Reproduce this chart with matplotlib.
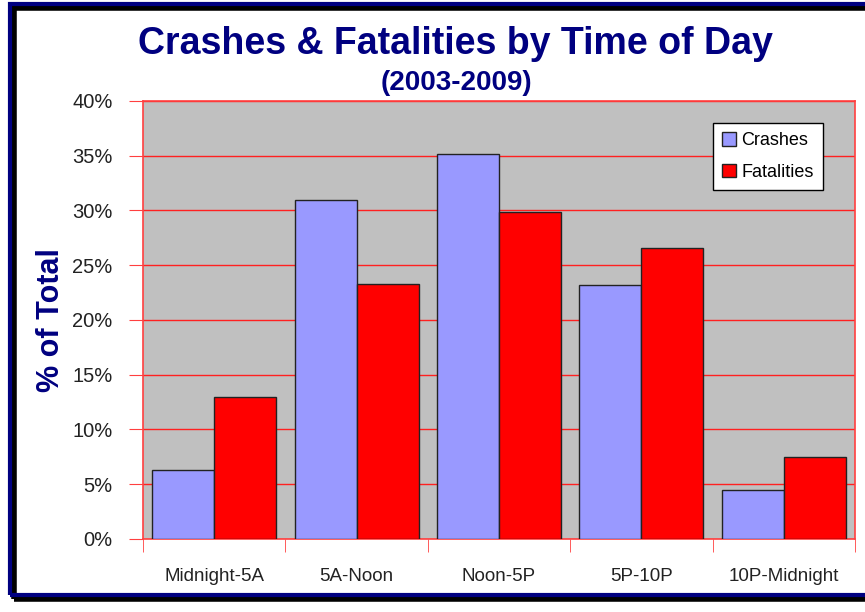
import numpy as np
import matplotlib.pyplot as plt
from matplotlib.patches import Rectangle

categories = ['Midnight-5A', '5A-Noon', 'Noon-5P', '5P-10P', '10P-Midnight']
crashes = [6.3, 31.0, 35.2, 23.2, 4.5]
fatalities = [13.0, 23.3, 29.9, 26.6, 7.5]
yticks = [0, 5, 10, 15, 20, 25, 30, 35, 40]

plt.rcParams['font.family'] = ['Liberation Sans', 'DejaVu Sans']
navy = '#000080'

fig = plt.figure(figsize=(8.65, 6.12), dpi=100)
ax = fig.add_axes([0.1653, 0.1193, 0.8231, 0.7157])

# outer frame with shadow
fig.patches.append(Rectangle((0.016, 0.022), 0.99, 0.965, transform=fig.transFigure,
                             fill=False, edgecolor='black', linewidth=4, zorder=0))
fig.patches.append(Rectangle((0.012, 0.028), 0.99, 0.965, transform=fig.transFigure,
                             fill=False, edgecolor=navy, linewidth=3, zorder=1))

x = np.arange(len(categories))
w = 0.435
ax.set_facecolor('#C0C0C0')
ax.bar(x - w / 2, crashes, w, color='#9999FF', edgecolor='#222222', linewidth=1,
       label='Crashes', zorder=3)
ax.bar(x + w / 2, fatalities, w, color='#FF0000', edgecolor='#222222', linewidth=1,
       label='Fatalities', zorder=3)

ax.set_xlim(-0.5, len(categories) - 0.5)
ax.set_ylim(0, 40)
ax.set_yticks(yticks)
ax.set_yticklabels([f'{t}%' for t in yticks], fontsize=14.5, color='#222222')
ax.yaxis.grid(True, color='#FF2020', linewidth=1, zorder=1)
ax.set_axisbelow(True)

ax.set_xticks(x)
ax.set_xticklabels(categories, fontsize=13.5, color='#222222')
ax.set_xticks(np.arange(-0.5, len(categories)), minor=True)
ax.tick_params(axis='x', which='major', length=0, pad=21)
ax.tick_params(axis='x', which='minor', length=9, color='#FF4040', direction='out')
ax.tick_params(axis='y', length=10, color='#FF4040', direction='out', pad=12)
for s in ax.spines.values():
    s.set_color('#FF4040')
    s.set_linewidth(1.2)

ax.set_ylabel('% of Total', fontsize=22, fontweight='bold', color=navy, labelpad=4)

fig.text(0.527, 0.928, 'Crashes & Fatalities by Time of Day', ha='center', va='center',
         fontsize=27, fontweight='bold', color=navy)
fig.text(0.528, 0.864, '(2003-2009)', ha='center', va='center',
         fontsize=20, fontweight='bold', color=navy)

leg = ax.legend(loc='upper right', bbox_to_anchor=(0.955, 0.95), borderaxespad=0,
                fontsize=13, frameon=True, fancybox=False, edgecolor='black',
                framealpha=1, handlelength=0.8, handleheight=0.8, handletextpad=0.3,
                borderpad=0.5, labelspacing=0.8)
leg.get_frame().set_linewidth(1)

fig.savefig('out.png', dpi=100)
